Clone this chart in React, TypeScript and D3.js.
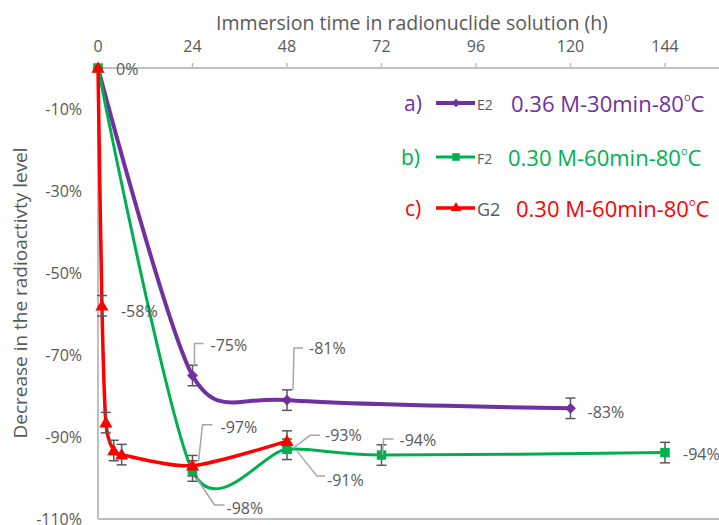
import React from "react";
import * as d3 from "d3";

const W = 719;
const H = 525;

const xTicks = [0, 24, 48, 72, 96, 120, 144];
const yTicks = [-10, -30, -50, -70, -90, -110];

const e2Times = [0, 24, 48, 120];
const e2Values = [0, -75, -81, -83];
const e2Errors = [0, 2.5, 2.5, 2.5];

const f2Times = [0, 24, 48, 72, 144];
const f2Values = [0, -98.3, -93, -94.4, -93.8];
const f2Errors = [0, 2.5, 2.5, 2.5, 2.5];

const g2Times = [0, 1, 2, 4, 6, 24, 48];
const g2Values = [0, -58, -86.5, -93.3, -94.3, -97, -91];
const g2Errors = [0, 2.5, 2.5, 2.5, 2.5, 2.5, 2.5];

const legendLetters = ["a)", "b)", "c)"];
const legendCodes = ["E2", "F2", "G2"];
const legendDescs = ["0.36 M-30min-80", "0.30 M-60min-80", "0.30 M-60min-80"];

const COLORS = ["#7030A0", "#00B050", "#FF0000"];
const GRAY = "#595959";
const AXIS = "#BFBFBF";
const LEADER = "#A6A6A6";
const FONT = "'Open Sans', 'Noto Sans', sans-serif";

type LabelSpec = { s: number; i: number; tx: number; ty: number; leader?: [number, number][] };
const labelLayout: LabelSpec[] = [
  { s: 1, i: 0, tx: 18, ty: 1 },
  { s: 2, i: 1, tx: 19, ty: 5 },
  { s: 0, i: 1, tx: 18, ty: -31, leader: [[2, -9], [2, -32], [11, -32]] },
  { s: 0, i: 2, tx: 22, ty: -52, leader: [[6, -10], [7, -52], [16, -52]] },
  { s: 0, i: 3, tx: 17, ty: 4 },
  { s: 2, i: 5, tx: 28, ty: -39, leader: [[6, -4], [10, -41], [20, -41]] },
  { s: 1, i: 1, tx: 34, ty: 37, leader: [[4, 7], [22, 34], [32, 34]] },
  { s: 1, i: 2, tx: 38, ty: -14, leader: [[6, -1], [23, -14], [33, -14]] },
  { s: 2, i: 6, tx: 40, ty: 39, leader: [[10, 10], [30, 35], [38, 35]] },
  { s: 1, i: 3, tx: 18, ty: -15, leader: [[1, 0], [2, -16], [12, -16]] },
  { s: 1, i: 4, tx: 18, ty: 1 },
];

export default function App() {
  const x = d3.scaleLinear().domain([0, 144]).range([98, 665]);
  const y = d3.scaleLinear().domain([-110, 0]).range([519, 68]);

  const series = [
    { t: e2Times, v: e2Values, e: e2Errors },
    { t: f2Times, v: f2Values, e: f2Errors },
    { t: g2Times, v: g2Values, e: g2Errors },
  ];

  const line = d3
    .line<[number, number]>()
    .x((d) => x(d[0]))
    .y((d) => y(d[1]))
    .curve(d3.curveCardinal.tension(0.22));

  const symbols = [
    d3.symbol().type(d3.symbolDiamond2).size(75),
    d3.symbol().type(d3.symbolSquare).size(90),
    d3.symbol().type(d3.symbolTriangle).size(75),
  ];
  const widths = [4, 3, 3.5];
  const drawOrder = [0, 1, 2];

  return (
    <svg width={W} height={H} style={{ position: "absolute", left: 0, top: 0, background: "#fff" }} fontFamily={FONT}>
      <rect width={W} height={H} fill="#fff" />
      <text x={412} y={22} textAnchor="middle" dominantBaseline="central" fontSize={19.5} fill={GRAY}>
        Immersion time in radionuclide solution (h)
      </text>
      <text
        transform={`translate(20,${293}) rotate(-90)`}
        textAnchor="middle"
        dominantBaseline="central"
        fontSize={19}
        fill={GRAY}
      >
        Decrease in the radioactivty level
      </text>
      <line x1={x(0)} x2={W} y1={y(0)} y2={y(0)} stroke={AXIS} strokeWidth={2} />
      <line x1={x(0)} x2={W} y1={y(-110)} y2={y(-110)} stroke={AXIS} strokeWidth={2} />
      <line x1={x(0)} x2={x(0)} y1={y(0)} y2={y(-110)} stroke={AXIS} strokeWidth={2} />
      {xTicks.map((t) => (
        <g key={t}>
          <line x1={x(t)} x2={x(t)} y1={y(0)} y2={y(0) - 5} stroke={AXIS} strokeWidth={1.5} />
          <text x={x(t)} y={46} textAnchor="middle" dominantBaseline="central" fontSize={16} fill={GRAY}>
            {t}
          </text>
        </g>
      ))}
      {yTicks.map((t) => (
        <text key={t} x={82} y={y(t)} textAnchor="end" dominantBaseline="central" fontSize={16} fill={GRAY}>
          {`${t}%`}
        </text>
      ))}
      {drawOrder.map((si) => {
        const s = series[si];
        const pts = s.t.map((t, i) => [t, s.v[i]] as [number, number]);
        return (
          <path key={si} d={line(pts) || ""} fill="none" stroke={COLORS[si]} strokeWidth={widths[si]} strokeLinejoin="round" />
        );
      })}
      {drawOrder.map((si) => {
        const s = series[si];
        return s.t.map((t, i) =>
          s.e[i] > 0 ? (
            <g key={`e${si}-${i}`} stroke={GRAY} strokeWidth={1.5}>
              <line x1={x(t)} x2={x(t)} y1={y(s.v[i] + s.e[i])} y2={y(s.v[i] - s.e[i])} />
              <line x1={x(t) - 5} x2={x(t) + 5} y1={y(s.v[i] + s.e[i])} y2={y(s.v[i] + s.e[i])} />
              <line x1={x(t) - 5} x2={x(t) + 5} y1={y(s.v[i] - s.e[i])} y2={y(s.v[i] - s.e[i])} />
            </g>
          ) : null
        );
      })}
      {drawOrder.map((si) => {
        const s = series[si];
        return s.t.map((t, i) => (
          <path
            key={`m${si}-${i}`}
            d={symbols[si]() || ""}
            transform={`translate(${x(t)},${y(s.v[i]) + (si === 2 ? 1 : 0)})`}
            fill={COLORS[si]}
          />
        ));
      })}
      {labelLayout.map((l, k) => {
        const s = series[l.s];
        const px = x(s.t[l.i]);
        const py = y(s.v[l.i]);
        const txt = `${Math.round(s.v[l.i])}%`;
        return (
          <g key={`l${k}`}>
            {l.leader && (
              <polyline
                points={l.leader.map((p) => `${px + p[0]},${py + p[1]}`).join(" ")}
                fill="none"
                stroke={LEADER}
                strokeWidth={1.5}
              />
            )}
            <text x={px + l.tx} y={py + l.ty} dominantBaseline="central" fontSize={16} fill={GRAY}>
              {txt}
            </text>
          </g>
        );
      })}
      {legendLetters.map((lt, i) => {
        const ly = [103, 157, 208][i];
        const lx = [404, 401, 405][i];
        const descX = [511, 508, 516][i];
        const sym = symbols[i]();
        return (
          <g key={`lg${i}`}>
            <text x={lx} y={ly} dominantBaseline="central" fontSize={21} fill={COLORS[i]}>
              {lt}
            </text>
            <line x1={436} x2={475} y1={ly} y2={ly} stroke={COLORS[i]} strokeWidth={widths[i]} />
            <path d={sym || ""} transform={`translate(456,${ly}) scale(0.8)`} fill={COLORS[i]} />
            <text x={477} y={ly + 1} dominantBaseline="central" fontSize={i === 2 ? 18 : 14} fill={GRAY}>
              {legendCodes[i]}
            </text>
            <text x={descX} y={ly} dominantBaseline="central" fontSize={22} fill={COLORS[i]}>
              {legendDescs[i]}
              <tspan fontSize={11} dy={-7}>o</tspan>
              <tspan dy={7}>C</tspan>
            </text>
          </g>
        );
      })}
    </svg>
  );
}
